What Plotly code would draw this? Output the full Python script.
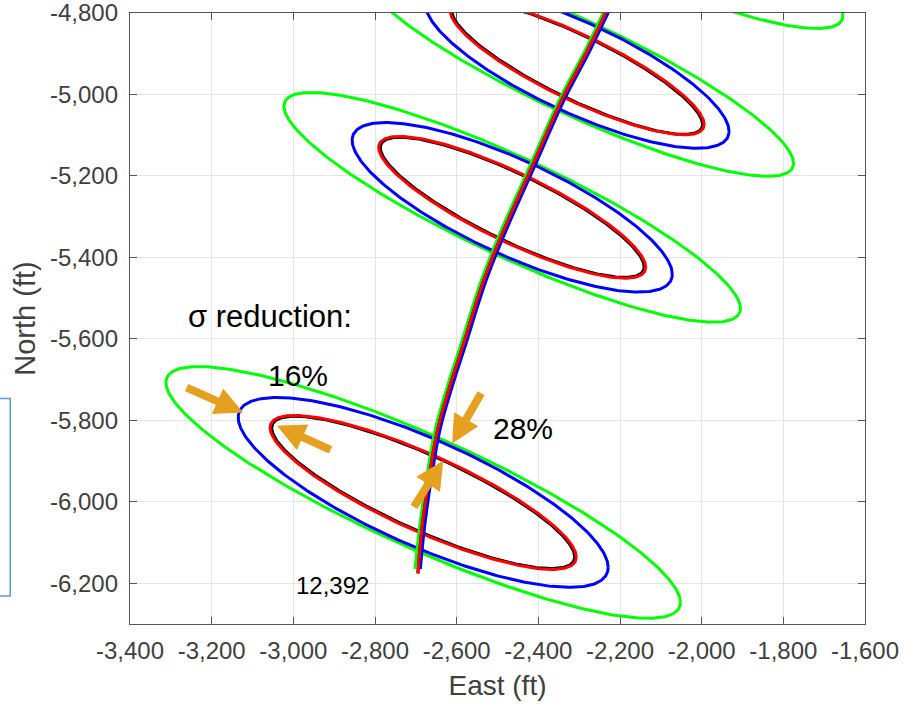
import numpy as np
import plotly.graph_objects as go

# --- Uncertainty ellipses at four survey stations (East/North, ft) ---
# Each ellipse: centre, half-extent along East and North, and E-N correlation.
STATION_E = [-2682, -2464, -2305, -2184]
STATION_N = [-5977, -5277, -4934, -4571]

GREEN_SE = [630, 559, 530, 530]
GREEN_SN = [309, 282, 267, 267]
GREEN_RHO = [-0.873, -0.88, -0.88, -0.88]

BLUE_SE = [453, 392, 372, 372]
BLUE_SN = [233, 208, 198, 198]
BLUE_RHO = [-0.79, -0.79, -0.79, -0.79]

BLACK_SE = [371, 323, 307, 307]
BLACK_SN = [187, 172, 164, 164]
BLACK_RHO = [-0.845, -0.85, -0.85, -0.85]

RED_SE = [375, 327, 311, 311]
RED_SN = [189, 174, 165, 165]
RED_RHO = [-0.84, -0.845, -0.845, -0.845]

# --- Well trajectory (plan view) ---
TRAJ_N = [-4757, -4889, -5012, -5176, -5355, -5460, -5624, -5698, -5820, -5943, -6065, -6176]
TRAJ_N_OUTER = [-4757, -4889, -5012, -5176, -5355, -5460, -5624, -5698, -5820, -5943, -6065, -6165]
TRAJ_E_GREEN = [-2221, -2284, -2348, -2421, -2500, -2541, -2593, -2617, -2652, -2674, -2691, -2702]
TRAJ_E_BLUE = [-2209, -2272, -2336, -2409, -2488, -2529, -2581, -2605, -2640, -2662, -2679, -2689]
TRAJ_E_BLACK = [-2215, -2278, -2342, -2415, -2494, -2535, -2587, -2611, -2646, -2668, -2685, -2695]
TRAJ_E_RED = [-2215, -2278, -2342, -2415, -2494, -2535, -2587, -2611, -2646, -2668, -2685, -2695]

# --- Annotations ---
# arrows: tail E, tail N, tip E, tip N
ARROWS = [
    (-3265, -5718, -3123, -5781),
    (-2905, -5874, -3040, -5813),
    (-2538, -5730, -2611, -5857),
    (-2707, -6016, -2633, -5899),
]
LABELS = [
    ("\u03c3 reduction:", -3057, -5546, 31),
    ("16%", -2989, -5691, 30),
    ("28%", -2438, -5820, 30),
    ("12,392", -2903, -6205, 24),
]

E_TICKS = [-3400, -3200, -3000, -2800, -2600, -2400, -2200, -2000, -1800, -1600]
N_TICKS = [-6200, -6000, -5800, -5600, -5400, -5200, -5000, -4800]

FONT = "Arial, Liberation Sans, Helvetica, sans-serif"


def ellipse(ce, cn, se, sn, rho, n=361):
    t = np.linspace(0, 2 * np.pi, n)
    e = ce + se * np.cos(t)
    nn = cn + sn * (rho * np.cos(t) + np.sqrt(1 - rho ** 2) * np.sin(t))
    return e, nn


fig = go.Figure()

ellipse_sets = [
    ("#00ff00", GREEN_SE, GREEN_SN, GREEN_RHO),
    ("#0000ff", BLUE_SE, BLUE_SN, BLUE_RHO),
    ("#000000", BLACK_SE, BLACK_SN, BLACK_RHO),
    ("#ff0000", RED_SE, RED_SN, RED_RHO),
]
for color, se_list, sn_list, rho_list in ellipse_sets:
    for ce, cn, se, sn, rho in zip(STATION_E, STATION_N, se_list, sn_list, rho_list):
        ex, ny = ellipse(ce, cn, se, sn, rho)
        fig.add_trace(go.Scatter(x=ex, y=ny, mode="lines",
                                 line=dict(color=color, width=3),
                                 hoverinfo="skip", showlegend=False))

for color, e_vals, n_vals in [
    ("#00ff00", TRAJ_E_GREEN, TRAJ_N_OUTER),
    ("#0000ff", TRAJ_E_BLUE, TRAJ_N_OUTER),
    ("#000000", TRAJ_E_BLACK, TRAJ_N),
    ("#ff0000", TRAJ_E_RED, TRAJ_N),
]:
    fig.add_trace(go.Scatter(x=e_vals, y=n_vals, mode="lines",
                             line=dict(color=color, width=3, shape="spline"),
                             hoverinfo="skip", showlegend=False))

annotations = []
for te, tn, he, hn in ARROWS:
    annotations.append(dict(
        x=he, y=hn, ax=te, ay=tn, xref="x", yref="y", axref="x", ayref="y",
        text="", showarrow=True, arrowhead=2, arrowsize=0.7, arrowwidth=8,
        arrowcolor="#e6a020", standoff=0, startstandoff=0,
    ))
for text, e, n, size in LABELS:
    annotations.append(dict(
        x=e, y=n, xref="x", yref="y", text=text, showarrow=False,
        font=dict(family=FONT, size=size, color="#000000"),
        xanchor="center", yanchor="middle",
    ))

axis_common = dict(
    showgrid=True, gridcolor="#e4e4e4", gridwidth=1,
    showline=True, linecolor="#555555", linewidth=1.3, mirror="ticks",
    ticks="inside", ticklen=7, tickcolor="#555555", tickwidth=1.3,
    tickfont=dict(family=FONT, size=24, color="#404040"),
    ticklabeloverflow="allow",
    zeroline=False, automargin=False,
)

fig.update_layout(
    width=916, height=707,
    margin=dict(l=130, r=51, t=13, b=83),
    plot_bgcolor="white", paper_bgcolor="white",
    annotations=annotations,
    xaxis=dict(range=[-3400, -1600], tickvals=E_TICKS,
               ticktext=[f"{v:,}" for v in E_TICKS], ticklabelstandoff=5,
               title=dict(text="East (ft)", standoff=12,
                          font=dict(family=FONT, size=28, color="#404040")),
               **axis_common),
    yaxis=dict(range=[-6300, -4800], tickvals=N_TICKS,
               ticktext=[f"{v:,}" for v in N_TICKS], ticklabelstandoff=6,
               title=dict(text="North (ft)", standoff=5,
                          font=dict(family=FONT, size=29, color="#404040")),
               **axis_common),
    shapes=[dict(type="rect", xref="paper", yref="paper",
                 x0=-0.185, x1=-0.163, y0=0.046, y1=0.369,
                 line=dict(color="#5b9bd5", width=1.5), fillcolor="rgba(0,0,0,0)",
                 layer="below")],
)

fig.write_html("out.html")
